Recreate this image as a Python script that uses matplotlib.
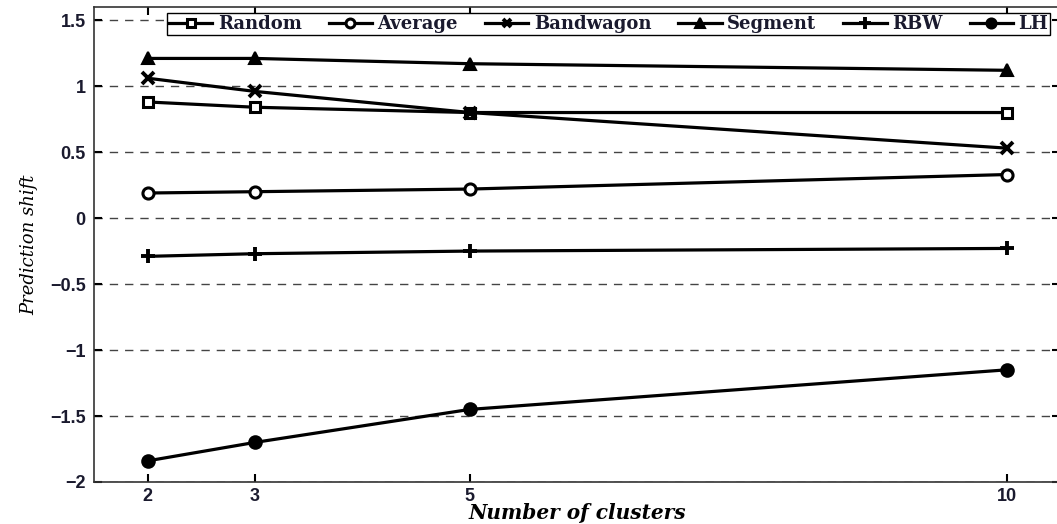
#!/usr/bin/env python3

import matplotlib
matplotlib.use('Agg')
import matplotlib.pyplot as plt

clusters = [2, 3, 5, 10]

random_shift = [0.88, 0.84, 0.80, 0.80]
average_shift = [0.19, 0.20, 0.22, 0.33]
bandwagon_shift = [1.06, 0.96, 0.80, 0.53]
segment_shift = [1.21, 1.21, 1.17, 1.12]
rbw_shift = [-0.29, -0.27, -0.25, -0.23]
lh_shift = [-1.84, -1.70, -1.45, -1.15]

names = ["Random", "Average", "Bandwagon", "Segment", "RBW", "LH"]
yticks = [-2, -1.5, -1, -0.5, 0, 0.5, 1, 1.5]
ytick_labels = ['\u22122', '\u22121.5', '\u22121', '\u22120.5', '0', '0.5', '1', '1.5']

fig = plt.figure(figsize=(10.57, 5.24), dpi=100)
ax = fig.add_axes([0.0889, 0.0802, 0.9144, 0.9065])

series = [random_shift, average_shift, bandwagon_shift, segment_shift, rbw_shift, lh_shift]
styles = [
    dict(marker='s', ms=7, mfc='white', mew=2.2),
    dict(marker='o', ms=8, mfc='white', mew=2.2),
    dict(marker='x', ms=8, mew=2.8),
    dict(marker='^', ms=9, mfc='black', mew=1.5),
    dict(marker='+', ms=10, mew=2.8),
    dict(marker='o', ms=9, mfc='black', mew=1.5),
]
for vals, name, st in zip(series, names, styles):
    ax.plot(clusters, vals, color='black', lw=2.3, mec='black', label=name, **st)

ax.set_xlim(1.5, 10.5)
ax.set_ylim(-2, 1.6)
ax.set_xticks(clusters)
ax.set_yticks(yticks)
ax.set_yticklabels(ytick_labels)
ax.tick_params(direction='in', top=True, right=True, length=6, width=1.5,
               labelsize=13, pad=6)
ax.tick_params(axis='x', pad=4)
for lab in ax.get_xticklabels() + ax.get_yticklabels():
    lab.set_family('Liberation Sans')
    lab.set_fontweight('bold')
    lab.set_color('#1a1a2e')

ax.yaxis.grid(True, linestyle=(0, (6, 5)), color='#444444', lw=1.0)
for sp in ax.spines.values():
    sp.set_linewidth(1.2)
    sp.set_color('#333333')

ax.set_xlabel('Number of clusters', family='DejaVu Serif', style='italic',
              fontweight='bold', fontsize=14.5, labelpad=-1)
ax.set_ylabel('Prediction shift', family='DejaVu Serif', style='italic',
              fontsize=13, labelpad=8)

leg = ax.legend(ncol=6, loc='upper right', bbox_to_anchor=(0.989, 0.987),
                prop={'family': 'DejaVu Serif', 'weight': 'bold', 'size': 13},
                handlelength=2.4, handletextpad=0.3, columnspacing=1.5,
                borderpad=0.1, borderaxespad=0.0, fancybox=False,
                framealpha=1, edgecolor='black', markerscale=0.8)
leg.get_frame().set_linewidth(1.0)
for t in leg.get_texts():
    t.set_color('#1a1a2e')

fig.savefig('out.png', dpi=100)
